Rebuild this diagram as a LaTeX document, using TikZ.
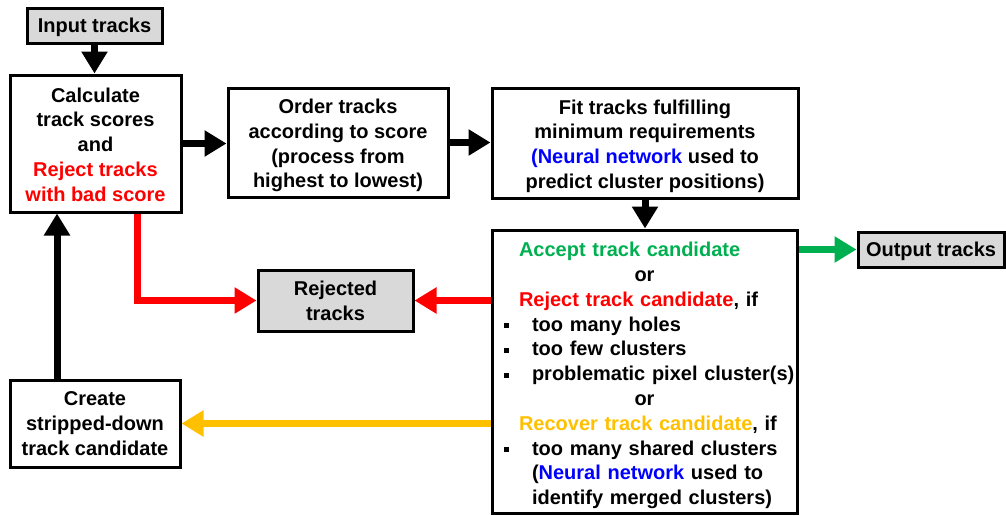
\documentclass[tikz,border=0pt]{standalone}
\usepackage{fontspec}
\setmainfont{Liberation Sans}
\usetikzlibrary{arrows.meta}
\definecolor{gbox}{HTML}{D9D9D9}
\definecolor{rej}{HTML}{FF0000}
\definecolor{acc}{HTML}{00B050}
\definecolor{rec}{HTML}{FFC000}
\definecolor{nn}{HTML}{0000FF}
\newcommand{\bitem}[1]{\mbox{\hspace*{7pt}\rule[3pt]{5pt}{5pt}\hspace*{23.5pt}#1}}
\newcommand{\padtop}[1]{\rule{0pt}{#1}}
\begin{document}
\begin{tikzpicture}[x=1pt,y=-1pt,
  font=\bfseries\fontsize{20}{24.8}\selectfont,
  box/.style={draw, line width=3pt, rectangle, align=center, inner sep=0pt},
  gbx/.style={box, fill=gbox},
  arr/.style={line width=7pt, -{Triangle[length=22pt,width=25pt]}}
]
\useasboundingbox (0,0) rectangle (1006,515);

\node[gbx, minimum width=135pt, minimum height=35pt] (inp) at (94.5,25.5) {\padtop{18.6pt}Input tracks};
\node[box, minimum width=171pt, minimum height=137pt] (calc) at (95.5,143.5)
  {\padtop{16.6pt}Calculate\\track scores\\and\\{\color{rej}Reject tracks}\\{\color{rej}with bad score}};
\node[box, minimum width=220pt, minimum height=109pt] (ord) at (338,142.5)
  {\padtop{20.6pt}Order tracks\\according to score\\(process from\\highest to lowest)};
\node[box, minimum width=306pt, minimum height=110pt] (fit) at (645,143)
  {\padtop{20.6pt}Fit tracks fulfilling\\minimum requirements\\{\color{nn}(Neural network} used to\\predict cluster positions)};
\node[box, minimum width=305pt, minimum height=283pt, text width=296pt, align=left] (dec) at (644.5,371.5)
  {\padtop{22.6pt}\hspace*{22.5pt}{\color{acc}Accept track candidate}\\
   \makebox[296pt]{or}\\
   \hspace*{22.5pt}{\color{rej}Reject track candidate}, if\\
   \bitem{too many holes}\\
   \bitem{too few clusters}\\
   \bitem{problematic pixel cluster(s)}\\
   \makebox[296pt]{or}\\
   \hspace*{22.5pt}{\color{rec}Recover track candidate}, if\\
   \bitem{too many shared clusters}\\
   \mbox{\hspace*{35.5pt}({\color{nn}Neural network} used to}\\
   \mbox{\hspace*{35.5pt}identify merged clusters)}};
\node[gbx, minimum width=146pt, minimum height=35pt] (out) at (931,249.5) {\padtop{18.6pt}Output tracks};
\node[gbx, minimum width=155pt, minimum height=61pt] (rjt) at (335.5,300.5) {Rejected\\tracks};
\node[box, minimum width=170pt, minimum height=87pt] (crt) at (95,423.5)
  {Create\\stripped-down\\track candidate};

\draw[arr] (inp.south) -- (inp.south |- calc.north);
\draw[arr] (calc.east) -- (calc.east -| ord.west);
\draw[arr] (ord.east) -- (ord.east -| fit.west);
\draw[arr] (fit.south) -- (fit.south |- dec.north);
\draw[arr, acc] (dec.east |- out.west) -- (out.west);
\draw[arr, rej] (dec.west |- rjt.east) -- (rjt.east);
\draw[arr, rej] ([xshift=41.5pt]calc.south) |- (rjt.west);
\draw[arr, rec] (dec.west |- crt.east) -- (crt.east);
\draw[arr] ([xshift=-38pt]crt.north) -- ([xshift=-38pt]crt.north |- calc.south);
\end{tikzpicture}
\end{document}
